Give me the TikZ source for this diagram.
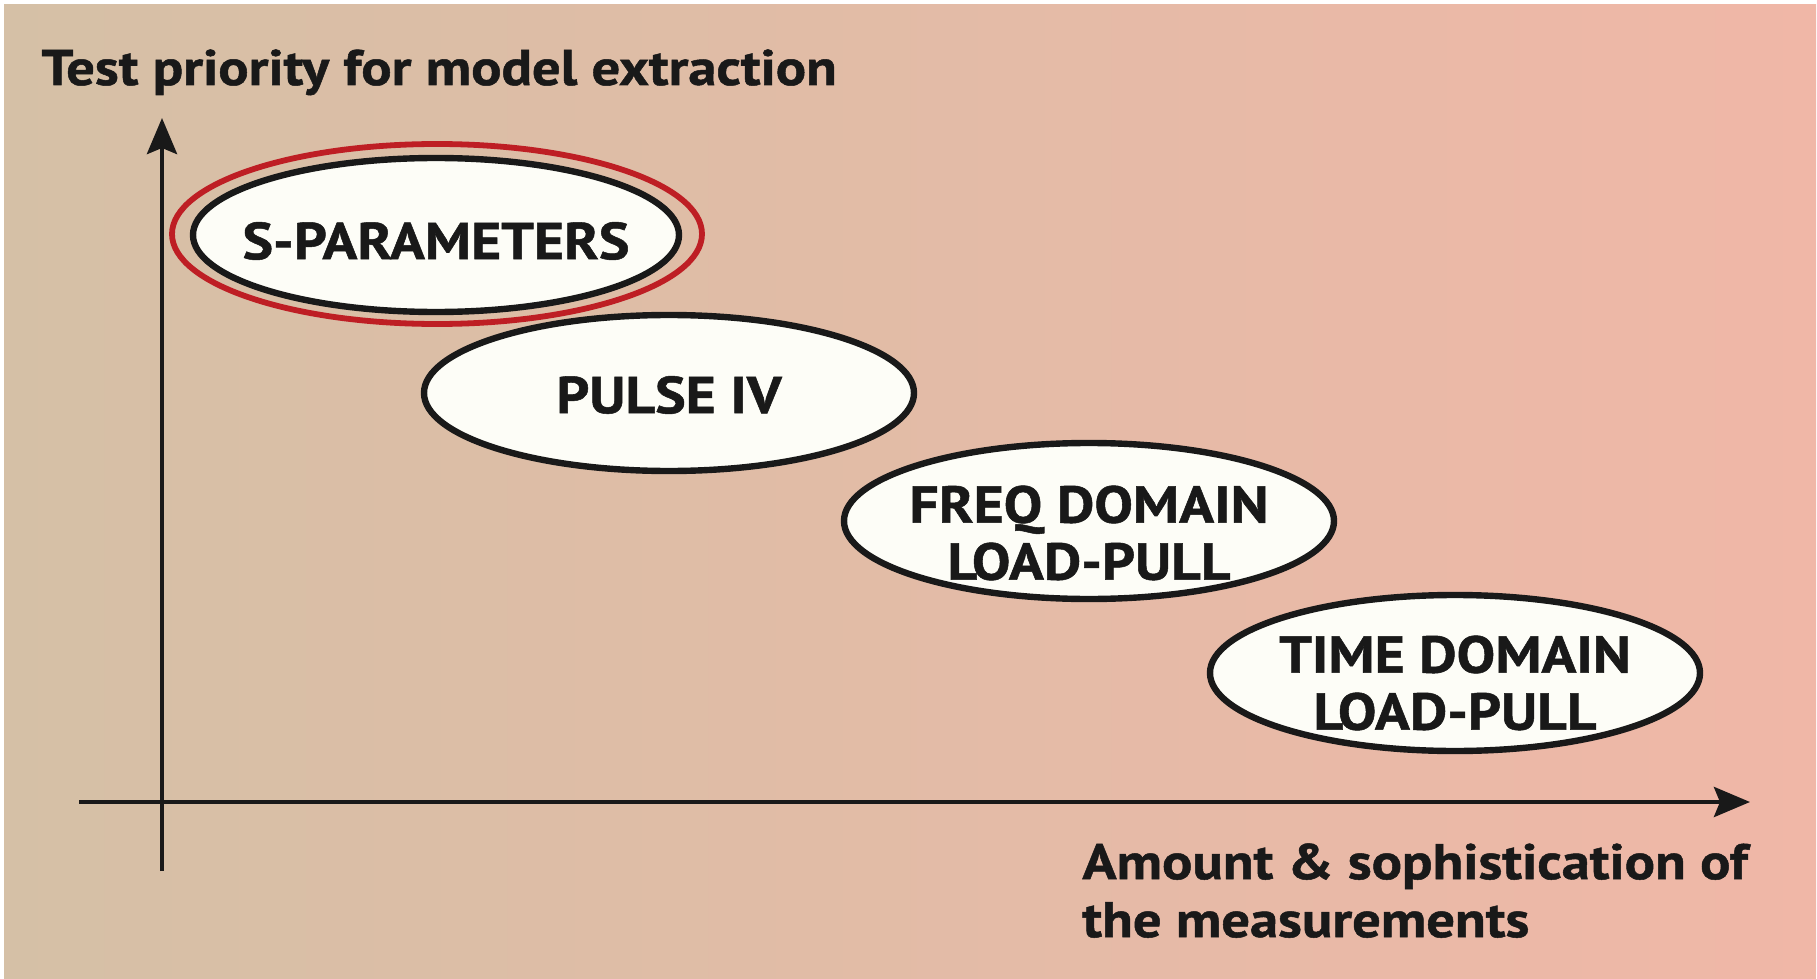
\documentclass[tikz,border=0pt]{standalone}
\usepackage{fontspec}
\setmainfont{PT Sans}
\newfontfamily\axisfont{PT Sans}[FakeStretch=1.13, FakeBold=1]
\newfontfamily\ellfont{PT Sans}[FakeStretch=1.11, FakeBold=1]
\usetikzlibrary{shapes.geometric,arrows.meta}
\definecolor{bgleft}{RGB}{213,192,166}
\definecolor{bgright}{RGB}{240,183,167}
\definecolor{ellfill}{RGB}{253,253,247}
\definecolor{selred}{RGB}{190,30,36}
\definecolor{ink}{RGB}{25,25,25}
\tikzset{
  axisline/.style={draw=ink, line width=2.3pt, -{Stealth[length=18pt,width=15pt,inset=3pt]}},
  ellbox/.style={ellipse, draw=ink, fill=ellfill, line width=3.2pt, minimum width=245pt, minimum height=78pt, inner sep=0pt},
  selring/.style={ellipse, draw=selred, line width=2.9pt, minimum width=265pt, minimum height=90pt, inner sep=0pt},
  elltext/.style={font=\ellfont\bfseries\fontsize{26}{28.5}\selectfont, text=ink, align=center, inner sep=0pt},
  axistext/.style={font=\axisfont\bfseries\fontsize{25}{29}\selectfont, text=ink, align=left, inner sep=0pt},
}
\begin{document}
\begin{tikzpicture}[x=0.5pt,y=-0.5pt]
\useasboundingbox (0,0) rectangle (1817,979);
\fill[white] (0,0) rectangle (1817,979);
\shade[left color=bgleft, right color=bgright] (4,5) rectangle (1816,979);
% axes
\coordinate (ytop) at (162,118);
\coordinate (ybot) at (162,871);
\coordinate (xleft) at (79,802);
\coordinate (xright) at (1750,802);
\draw[axisline] (ybot) -- (ytop);
\draw[axisline] (xleft) -- (xright);
% ellipses
\node[selring] (sel) at (437,234) {};
\node[ellbox, minimum width=243pt, minimum height=77pt] (e1) at (436,235) {};
\node[elltext] (t1) at ([yshift=-3pt]e1.center) {S-PARAMETERS};
\node[ellbox] (e2) at (669,393) {};
\node[elltext] (t2) at ([yshift=-1pt]e2.center) {PULSE IV};
\node[ellbox] (e3) at (1089,521) {};
\node[elltext] (t3) at ([yshift=-6pt]e3.center) {FREQ DOMAIN\\LOAD-PULL};
\node[ellbox] (e4) at (1455,673) {};
\node[elltext] (t4) at ([yshift=-5pt]e4.center) {TIME DOMAIN\\LOAD-PULL};
% labels
\node[axistext, anchor=base west] (ylab) at (41,85) {Test priority for model extraction};
\node[axistext, anchor=north west] (xlab) at (1082,843) {Amount \& sophistication of\\the measurements};
\end{tikzpicture}
\end{document}
